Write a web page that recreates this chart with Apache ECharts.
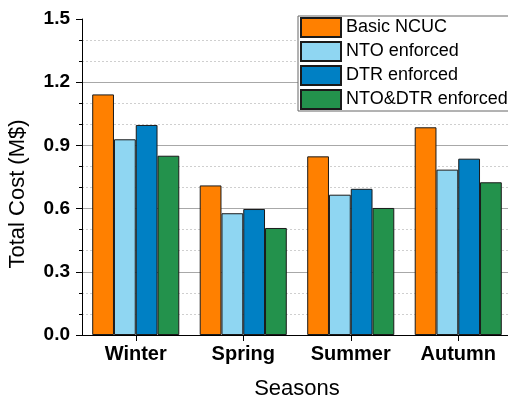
<!DOCTYPE html>
<html>
<head>
<meta charset="utf-8">
<script src="https://cdn.jsdelivr.net/npm/echarts@6/dist/echarts.min.js"></script>
<style>
html,body{margin:0;padding:0;background:#fff;}
#c{width:508px;height:403px;}
</style>
</head>
<body>
<div id="c"></div>
<script>
const categories = ['Winter', 'Spring', 'Summer', 'Autumn'];
const seriesNames = ['Basic NCUC', 'NTO enforced', 'DTR enforced', 'NTO&DTR enforced'];
const basicNCUC = [1.142, 0.710, 0.848, 0.986];
const ntoEnforced = [0.929, 0.578, 0.666, 0.785];
const dtrEnforced = [0.997, 0.598, 0.694, 0.837];
const ntoDtrEnforced = [0.851, 0.508, 0.603, 0.725];
const yTicks = [0.0, 0.3, 0.6, 0.9, 1.2, 1.5];

const colors = ['#FF8000', '#8FD6F2', '#0080C4', '#23924C'];
const values = [basicNCUC, ntoEnforced, dtrEnforced, ntoDtrEnforced];
const font = 'Arial, "Liberation Sans", Helvetica, sans-serif';

const chart = echarts.init(document.getElementById('c'));
chart.setOption({
  animation: false,
  backgroundColor: '#fff',
  textStyle: { fontFamily: font },
  grid: { left: 82, top: 19, width: 430, height: 316, containLabel: false, outerBoundsMode: 'none' },
  legend: {
    orient: 'vertical',
    left: 298, top: 16,
    icon: 'rect',
    itemWidth: 40, itemHeight: 19, itemGap: 3,
    padding: [1, 30, 1, 2],
    borderColor: '#666', borderWidth: 1,
    backgroundColor: '#fff',
    textStyle: { fontSize: 18, color: '#000', fontFamily: font },
    data: seriesNames
  },
  xAxis: {
    type: 'category',
    data: categories,
    name: 'Seasons',
    nameLocation: 'middle',
    nameGap: 43,
    nameTextStyle: { fontSize: 22, color: '#000', fontFamily: font },
    axisLine: { lineStyle: { color: '#000', width: 1 } },
    axisTick: { show: true, alignWithLabel: true, length: 6, lineStyle: { color: '#000' } },
    axisLabel: { fontSize: 20, fontWeight: 'bold', color: '#000', margin: 9, fontFamily: font },
    splitLine: { show: false }
  },
  yAxis: {
    type: 'value',
    min: yTicks[0], max: yTicks[yTicks.length - 1], interval: 0.3,
    name: 'Total Cost (M$)',
    nameLocation: 'middle',
    nameGap: 53,
    nameTextStyle: { fontSize: 22, color: '#000', fontFamily: font, padding: [0, 34, 0, 0] },
    axisLine: { show: true, lineStyle: { color: '#000', width: 1 } },
    axisTick: { show: true, length: 6, lineStyle: { color: '#000' } },
    minorTick: { show: true, splitNumber: 3, length: 3, lineStyle: { color: '#000' } },
    axisLabel: {
      fontSize: 19, fontWeight: 'bold', color: '#000', margin: 12, fontFamily: font,
      formatter: v => v.toFixed(1)
    },
    splitLine: { show: true, lineStyle: { color: ['#a8a8a8', '#a8a8a8', '#a8a8a8', '#a8a8a8', '#a8a8a8', 'rgba(0,0,0,0)'], width: 1 } },
    minorSplitLine: { show: true, lineStyle: { color: '#cfcfcf', type: [2, 2], width: 1 } }
  },
  series: seriesNames.map((n, i) => ({
    name: n,
    type: 'bar',
    data: values[i],
    barGap: '0%',
    barCategoryGap: '19%',
    itemStyle: { color: colors[i], borderColor: '#1a1a1a', borderWidth: 1 }
  }))
});
</script>
</body>
</html>
